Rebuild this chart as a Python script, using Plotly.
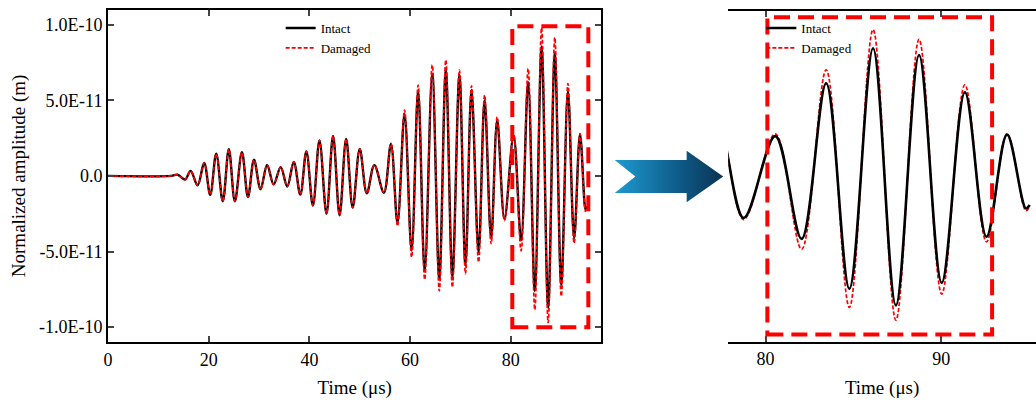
import plotly.graph_objects as go

W, H = 1036, 404
FONT = "Liberation Serif"
AMP_UNIT = 1e-11  # amplitudes below are in units of 1e-11 m

# Extrema of the received Lamb-wave signal (time in microseconds)
time_us = [0, 12.5, 13.8, 15.3, 16.4, 17.8, 19.1, 20.3, 21.5, 22.8, 24.0,
           25.2, 26.6, 27.8, 29.0, 30.3, 31.6, 32.9, 34.3, 35.6, 36.9,
           38.2, 39.4, 40.7, 42.0, 43.4, 44.7, 46.0, 47.3, 48.6, 50.0,
           51.4, 52.9, 54.8, 56.2, 57.5, 58.9, 60.3, 61.6, 62.9, 64.4,
           65.8, 67.1, 68.4, 69.8, 71.0, 72.2, 73.6, 74.8, 76.1, 77.3,
           78.75, 80.55, 82.05, 83.45, 84.77, 86.12, 87.42, 88.74, 90.03,
           91.35, 92.58, 93.75, 94.82, 95.04]
intact = [0, 0, 0.08, -0.24, 0.33, -0.62, 0.85, -1.25, 1.47, -1.68, 1.76,
          -1.68, 1.57, -1.40, 1.07, -0.88, 0.72, -0.56, 0.58, -0.70, 0.93,
          -1.24, 1.62, -1.96, 2.35, -2.50, 2.64, -2.60, 2.45, -2.10, 1.78,
          -1.15, 0.71, -1.12, 2.12, -3.10, 4.08, -4.93, 5.65, -6.30, 6.72,
          -6.80, 7.00, -6.65, 6.68, -5.92, 5.68, -5.04, 5.02, -4.15, 3.69,
          -2.85, 2.65, -4.25, 6.20, -7.60, 8.55, -8.72, 8.10, -7.20,
          5.60, -4.10, 2.75, -2.20, -1.97]
damaged = [0, 0, 0.08, -0.24, 0.33, -0.62, 0.85, -1.25, 1.47, -1.68, 1.76,
           -1.68, 1.57, -1.40, 1.07, -0.88, 0.72, -0.56, 0.58, -0.70, 0.93,
           -1.24, 1.62, -1.96, 2.35, -2.50, 2.64, -2.60, 2.45, -2.10, 1.78,
           -1.15, 0.71, -1.12, 2.15, -3.30, 4.35, -5.37, 6.00, -6.85, 7.34,
           -7.60, 7.67, -7.36, 7.00, -6.47, 5.95, -5.70, 5.35, -4.48, 3.90,
           -2.95, 2.80, -4.95, 7.10, -8.85, 9.80, -9.70, 9.15, -7.95,
           6.10, -4.45, 2.80, -2.35, -2.10]

y_tickvals = [1e-10, 5e-11, 0, -5e-11, -1e-10]
y_ticktext = ["1.0E-10", "5.0E-11", "0.0", "-5.0E-11", "-1.0E-10"]

intact_m = [v * AMP_UNIT for v in intact]
damaged_m = [v * AMP_UNIT for v in damaged]


def px_x(p):
    return p / W


def px_y(p):
    return 1 - p / H


fig = go.Figure()

# full record (left panel)
fig.add_trace(go.Scatter(x=time_us, y=intact_m, mode="lines", name="Intact",
                         line=dict(color="black", width=2.4, shape="spline", smoothing=1.0),
                         xaxis="x", yaxis="y", legend="legend", legendrank=1))
fig.add_trace(go.Scatter(x=time_us, y=damaged_m, mode="lines", name="Damaged",
                         line=dict(color="#ff0000", width=1.7, dash="4px,2px",
                                   shape="spline", smoothing=1.0),
                         xaxis="x", yaxis="y", legend="legend", legendrank=2))

# zoomed window (right panel)
fig.add_trace(go.Scatter(x=time_us, y=damaged_m, mode="lines", name="Damaged",
                         line=dict(color="#ff0000", width=1.7, dash="4px,2px",
                                   shape="spline", smoothing=1.0),
                         xaxis="x2", yaxis="y2", legend="legend2", legendrank=2))
fig.add_trace(go.Scatter(x=time_us, y=intact_m, mode="lines", name="Intact",
                         line=dict(color="black", width=2.6, shape="spline", smoothing=1.0),
                         xaxis="x2", yaxis="y2", legend="legend2", legendrank=1))

# arrow between panels
fig.add_trace(go.Scatter(
    x=[0, 0.663, 0.663, 1, 0.663, 0.663, 0, 0.19, 0],
    y=[0.82, 0.82, 1, 0.5, 0, 0.18, 0.18, 0.5, 0.82],
    mode="lines", fill="toself", line=dict(width=0),
    fillgradient=dict(type="horizontal",
                      colorscale=[[0, "#1e9ad0"], [0.55, "#0f5f8e"], [1, "#0a3353"]]),
    hoverinfo="skip", showlegend=False, xaxis="x3", yaxis="y3"))

axis_font = dict(family=FONT, size=18, color="black")
title_font = dict(family=FONT, size=19, color="black")
legend_font = dict(family=FONT, size=13, color="black")

fig.update_layout(
    width=W, height=H,
    margin=dict(l=0, r=0, t=0, b=0),
    paper_bgcolor="white", plot_bgcolor="rgba(0,0,0,0)",
    font=dict(family=FONT, color="black"),
    xaxis=dict(domain=[px_x(103.5), px_x(599.3)], range=[0, 98],
               tickvals=[0, 20, 40, 60, 80], ticks="inside", ticklen=6, tickwidth=1.5,
               showline=True, linewidth=2, linecolor="black", mirror="ticks",
               showgrid=False, zeroline=False, tickfont=axis_font,
               title=dict(text="Time (μs)", font=title_font, standoff=12),
               anchor="y"),
    yaxis=dict(domain=[px_y(342.3), px_y(9.5)], range=[-1.1e-10, 1.1e-10],
               tickvals=y_tickvals, ticktext=y_ticktext, ticks="inside", ticklen=6,
               tickwidth=1.5, showline=True, linewidth=2, linecolor="black",
               mirror="ticks", showgrid=False, zeroline=False, tickfont=axis_font,
               title=dict(text="Normalized amplitude (m)", font=title_font, standoff=8),
               anchor="x"),
    xaxis2=dict(domain=[px_x(726.7), 1.0], range=[77.87, 95.4],
                tickvals=[80, 90], ticks="inside", ticklen=6, tickwidth=1.5,
                showline=True, linewidth=2, linecolor="black", mirror="ticks",
                showgrid=False, zeroline=False, tickfont=axis_font,
                title=dict(text="Time (μs)", font=title_font, standoff=12),
                anchor="y2"),
    yaxis2=dict(domain=[px_y(341.7), px_y(10.7)], range=[-1.115e-10, 1.107e-10],
                visible=False, anchor="x2"),
    xaxis3=dict(domain=[px_x(612.7), px_x(721.7)], range=[0, 1], visible=False,
                anchor="y3"),
    yaxis3=dict(domain=[px_y(202.3), px_y(150.7)], range=[0, 1], visible=False,
                anchor="x3"),
    legend=dict(x=px_x(277), y=px_y(13), xanchor="left", yanchor="top",
                bgcolor="rgba(0,0,0,0)", font=legend_font,
                tracegroupgap=0, itemwidth=30),
    legend2=dict(x=px_x(760), y=px_y(13), xanchor="left", yanchor="top",
                 bgcolor="rgba(0,0,0,0)", font=legend_font,
                 tracegroupgap=0, itemwidth=30),
    shapes=[
        dict(type="rect", xref="x", yref="y", x0=80.3, x1=95.4, y0=-1.0e-10, y1=0.99e-10,
             line=dict(color="#ff0000", width=4, dash="16px,8px"), fillcolor="rgba(0,0,0,0)"),
        dict(type="rect", xref="x2", yref="y2", x0=80.1, x1=92.9, y0=-1.066e-10, y1=1.063e-10,
             line=dict(color="#ff0000", width=4, dash="16px,8px"), fillcolor="rgba(0,0,0,0)"),
    ],
)

fig.write_html("out.html")
